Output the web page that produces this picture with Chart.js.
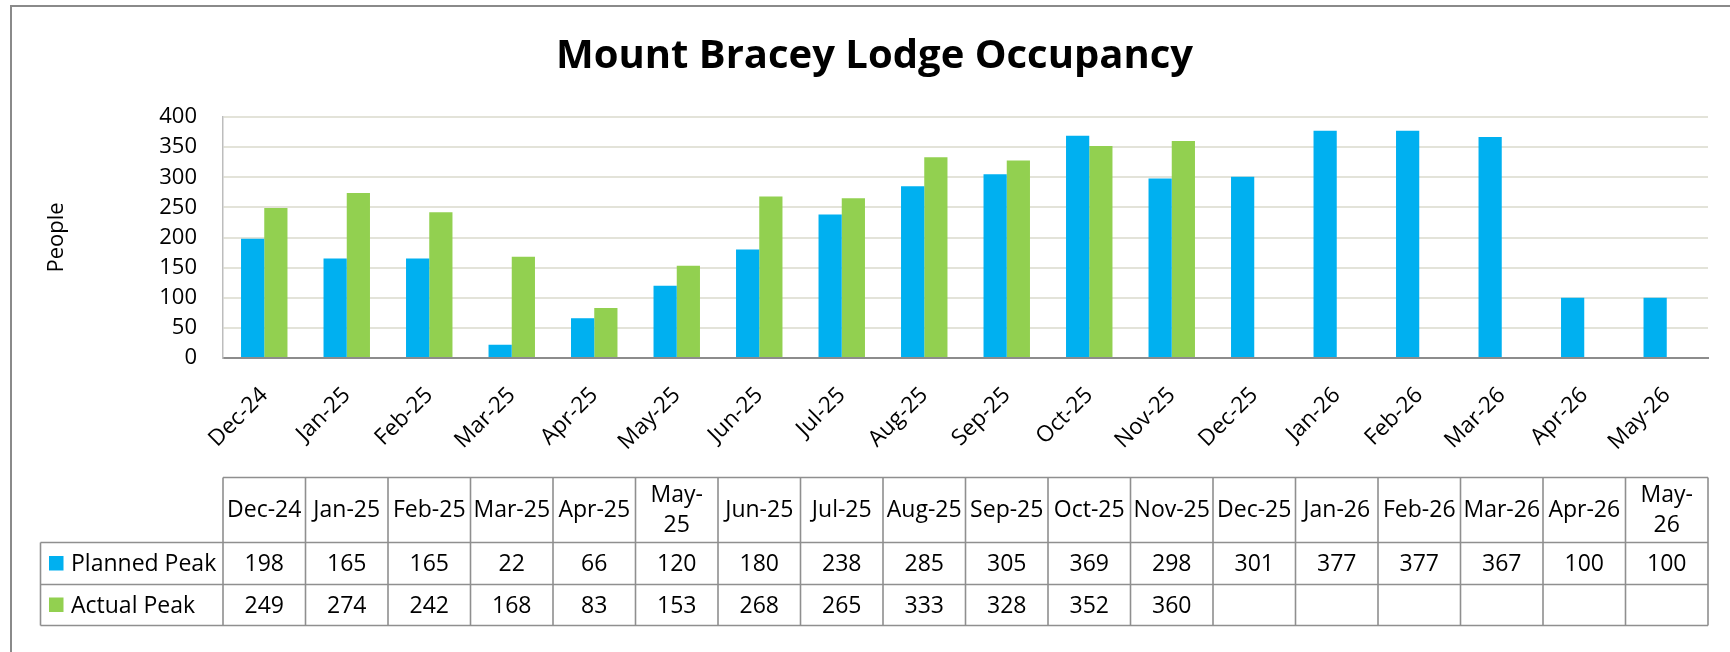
<!DOCTYPE html>
<html>
<head>
<meta charset="utf-8">
<script src="https://cdn.jsdelivr.net/npm/chart.js@4.4.1/dist/chart.umd.min.js"></script>
<style>
  html, body { margin: 0; padding: 0; background: #ffffff; }
  canvas { display: block; }
</style>
</head>
<body>
<canvas id="chart" width="1730" height="652"></canvas>
<script>
// ---- Data ----
const chartTitle = 'Mount Bracey Lodge Occupancy';
const yAxisTitle = 'People';
const categories = ['Dec-24','Jan-25','Feb-25','Mar-25','Apr-25','May-25','Jun-25','Jul-25','Aug-25','Sep-25','Oct-25','Nov-25','Dec-25','Jan-26','Feb-26','Mar-26','Apr-26','May-26'];
const plannedPeak = [198,165,165,22,66,120,180,238,285,305,369,298,301,377,377,367,100,100];
const actualPeak  = [249,274,242,168,83,153,268,265,333,328,352,360,null,null,null,null,null,null];
const seriesNames = ['Planned Peak','Actual Peak'];
const yMin = 0, yMax = 400, yStep = 50;

// ---- Styles ----
const BLUE = '#00B0F0';
const GREEN = '#92D050';
const FONT = '"Open Sans", "Liberation Sans", sans-serif';

const frame = {
  id: 'frame',
  beforeDraw(chart) {
    const ctx = chart.ctx;
    ctx.save();
    ctx.fillStyle = '#ffffff';
    ctx.fillRect(0, 0, chart.width, chart.height);
    ctx.strokeStyle = '#8a8a8a';
    ctx.lineWidth = 2;
    ctx.strokeRect(11, 6, 1800, 900);
    ctx.restore();
  }
};

const dataTable = {
  id: 'dataTable',
  afterDraw(chart) {
    const ctx = chart.ctx;
    const xs = chart.scales.x;
    const n = categories.length;
    const cw = xs.getPixelForValue(1) - xs.getPixelForValue(0);
    const left = xs.getPixelForValue(0) - cw / 2;
    const right = xs.getPixelForValue(n - 1) + cw / 2;
    const yTop = 477.5, yHead = 542.5, yR1 = 584.5, yR2 = 625.5;
    const labelLeft = 40.5;
    const line = (x1, y1, x2, y2) => { ctx.beginPath(); ctx.moveTo(x1, y1); ctx.lineTo(x2, y2); ctx.stroke(); };
    ctx.save();
    ctx.strokeStyle = '#8f8f8f';
    ctx.lineWidth = 1.6;
    line(left, yTop, right, yTop);
    line(labelLeft, yHead, right, yHead);
    line(labelLeft, yR1, right, yR1);
    line(labelLeft, yR2, right, yR2);
    for (let i = 0; i <= n; i++) {
      const x = left + i * cw;
      line(x, yTop, x, yR2);
    }
    line(labelLeft, yHead, labelLeft, yR2);

    ctx.fillStyle = '#000000';
    ctx.font = '23px ' + FONT;
    ctx.textAlign = 'center';
    ctx.textBaseline = 'middle';
    const hMid = (yTop + yHead) / 2;
    categories.forEach((c, i) => {
      const cx = xs.getPixelForValue(i);
      const w = ctx.measureText(c).width;
      if (w > cw - 4.5 && c.indexOf('-') >= 0) {
        const k = c.indexOf('-') + 1;
        ctx.fillText(c.slice(0, k), cx, hMid - 15);
        ctx.fillText(c.slice(k), cx, hMid + 15);
      } else {
        ctx.fillText(c, cx, hMid);
      }
    });
    const rows = [plannedPeak, actualPeak];
    const colors = [BLUE, GREEN];
    const rowMids = [(yHead + yR1) / 2, (yR1 + yR2) / 2];
    rows.forEach((vals, r) => {
      ctx.textAlign = 'center';
      vals.forEach((v, i) => {
        if (v === null || v === undefined) return;
        ctx.fillText(String(v), xs.getPixelForValue(i), rowMids[r] + 1);
      });
      ctx.fillStyle = colors[r];
      ctx.fillRect(49, rowMids[r] - 7.5, 14.5, 14.5);
      ctx.fillStyle = '#000000';
      ctx.textAlign = 'left';
      ctx.fillText(seriesNames[r], 71, rowMids[r] + 1);
    });
    ctx.restore();
  }
};

new Chart(document.getElementById('chart'), {
  type: 'bar',
  data: {
    labels: categories,
    datasets: [
      { label: seriesNames[0], data: plannedPeak, backgroundColor: BLUE, borderWidth: 0 },
      { label: seriesNames[1], data: actualPeak, backgroundColor: GREEN, borderWidth: 0 }
    ]
  },
  options: {
    responsive: false,
    animation: false,
    events: [],
    layout: { padding: { left: 41, right: 22, top: 0, bottom: 0 } },
    datasets: { bar: { categoryPercentage: 0.563, barPercentage: 1.0 } },
    plugins: {
      legend: { display: false },
      tooltip: { enabled: false },
      title: {
        display: true,
        text: chartTitle,
        color: '#000000',
        font: { family: FONT, size: 40, weight: 'bold', lineHeight: 1.2 },
        padding: { top: 32.5, bottom: 36.5 }
      }
    },
    scales: {
      x: {
        grid: { display: false, drawTicks: false },
        border: { display: true, color: '#8c8c8c', width: 2 },
        ticks: {
          color: '#000000',
          font: { family: FONT, size: 22.5 },
          minRotation: 45, maxRotation: 45,
          autoSkip: false,
          padding: 24
        },
        afterFit(scale) { scale.height = 652 - 358; }
      },
      y: {
        min: yMin, max: yMax,
        grid: { color: '#e3e3d9', lineWidth: 2, drawTicks: false },
        border: { display: true, color: '#bdbdbd', width: 1.5 },
        ticks: {
          stepSize: yStep,
          color: '#000000',
          font: { family: FONT, size: 22 },
          padding: 26
        },
        title: {
          display: true,
          text: yAxisTitle,
          color: '#000000',
          font: { family: FONT, size: 22 },
          padding: { top: 2.8, bottom: 0 }
        },
        afterFit(scale) { scale.width = 223 - 41; }
      }
    }
  },
  plugins: [frame, dataTable]
});
</script>
</body>
</html>
